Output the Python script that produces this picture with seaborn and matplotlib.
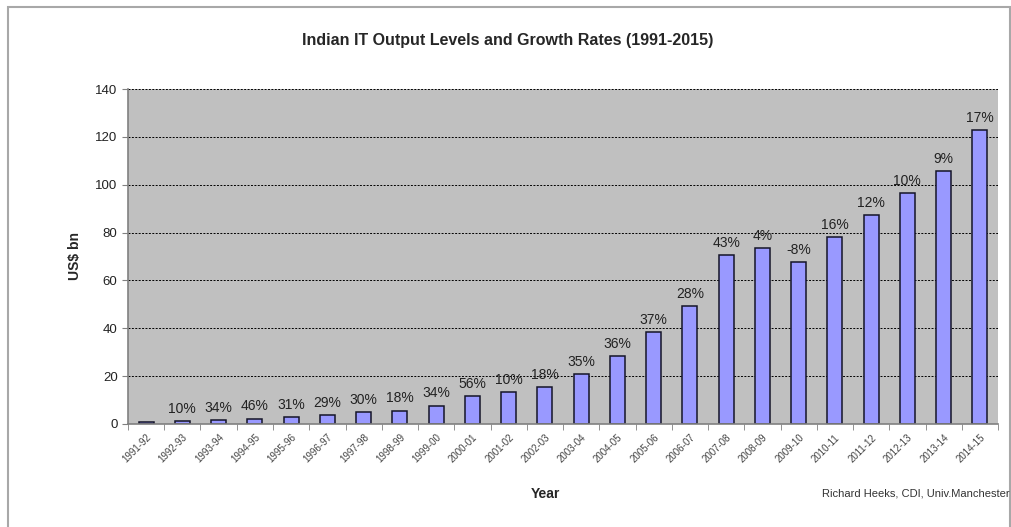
import matplotlib
matplotlib.use("Agg")
import matplotlib.pyplot as plt
import matplotlib.patches as mpatches
import pandas as pd
import seaborn as sns
import numpy as np

# Data
years = ['1991-92', '1992-93', '1993-94', '1994-95', '1995-96', '1996-97',
         '1997-98', '1998-99', '1999-00', '2000-01', '2001-02', '2002-03',
         '2003-04', '2004-05', '2005-06', '2006-07', '2007-08', '2008-09',
         '2009-10', '2010-11', '2011-12', '2012-13', '2013-14', '2014-15']
output_bn = [1.0, 1.1, 1.5, 2.2, 2.9, 3.7, 4.9, 5.6, 7.7, 11.7, 13.2, 15.5,
             20.8, 28.3, 38.4, 49.2, 70.6, 73.5, 67.5, 78.1, 87.3, 96.5,
             105.6, 122.7]
growth = ['', '10%', '34%', '46%', '31%', '29%', '30%', '18%', '34%', '56%',
          '10%', '18%', '35%', '36%', '37%', '28%', '43%', '4%', '-8%', '16%',
          '12%', '10%', '9%', '17%']

df = pd.DataFrame({'Year': years, 'Output': output_bn, 'Growth': growth})

sns.set_style("white")
plt.rcParams['font.family'] = ['Liberation Sans', 'DejaVu Sans']

fig = plt.figure(figsize=(10.12, 5.27), dpi=100)
ax = fig.add_axes([128 / 1012, 103 / 527, 870 / 1012, 335 / 527])

# outer frame like the Excel chart area
fig.patches.append(mpatches.Rectangle((8 / 1012, -0.01), 1002 / 1012, 1 - 7 / 527 + 0.01,
                                      transform=fig.transFigure, fill=False,
                                      edgecolor='#a8a8a8', linewidth=1.5))

ax.set_facecolor('#c0c0c0')
sns.barplot(data=df, x='Year', y='Output', ax=ax, color='#9999ff',
            edgecolor='#141428', linewidth=1.1, width=0.42, saturation=1)

for i, (v, g) in enumerate(zip(output_bn, growth)):
    if g:
        ax.text(i, v + 2.2, g, ha='center', va='bottom', fontsize=10,
                color='#222222')

ax.set_ylim(0, 140)
ax.set_xlim(-0.5, len(years) - 0.5)
ax.set_yticks(np.arange(0, 141, 20))
ax.yaxis.grid(True, color='black', linestyle=(0, (2, 1.5)), linewidth=0.7)
ax.set_axisbelow(True)

for s in ['top', 'right']:
    ax.spines[s].set_visible(False)
for s in ['left', 'bottom']:
    ax.spines[s].set_color('#808080')
    ax.spines[s].set_linewidth(1.2)

ax.tick_params(axis='y', which='major', length=4, color='#808080',
               labelsize=9.5, labelcolor='#222222', left=True)
ax.set_xticks(range(len(years)))
ax.set_xticklabels(years, rotation=45, ha='right', rotation_mode='anchor',
                   fontsize=7, color='#444444')
ax.tick_params(axis='x', which='major', length=0, pad=6)
ax.set_xticks(np.arange(-0.5, len(years), 1.0), minor=True)
ax.tick_params(axis='x', which='minor', length=4, color='#808080', bottom=True)

ax.set_xlabel('Year', fontsize=10, fontweight='bold')
ax.xaxis.set_label_coords((545 - 128) / 870, -0.188)
ax.set_ylabel('US$ bn', fontsize=10, fontweight='bold')
ax.yaxis.set_label_coords((82 - 128) / 870, 0.5)

fig.text(508 / 1012, 1 - 40 / 527, 'Indian IT Output Levels and Growth Rates (1991-2015)',
         ha='center', va='center', fontsize=11.5, fontweight='bold')
fig.text(1010 / 1012, 1 - 493 / 527, 'Richard Heeks, CDI, Univ.Manchester',
         ha='right', va='center', fontsize=8, color='#333333')

fig.savefig('out.png', dpi=100)
